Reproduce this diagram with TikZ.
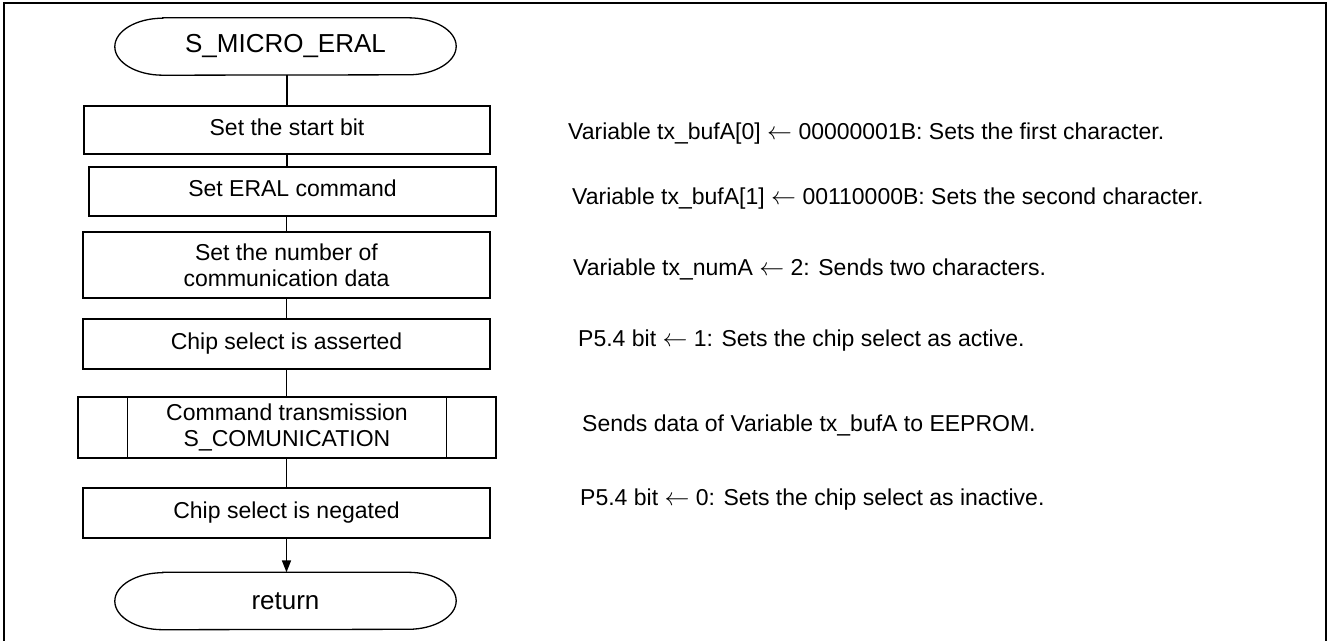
\documentclass[tikz,border=0pt]{standalone}
\usepackage{fontspec}
\setmainfont{Liberation Sans}
\usetikzlibrary{arrows.meta}

\tikzset{
  frameline/.style={line width=2.4pt},
  boxline/.style={line width=1.3pt},
  conn/.style={line width=1.6pt},
  procbox/.style={draw, boxline, rectangle, inner sep=0pt, align=center,
    font=\fontsize{23}{26}\selectfont},
  onerow/.style={text height=16pt, text depth=6pt},
  termbox/.style={rectangle, inner sep=0pt, minimum width=341pt, minimum height=57pt,
    font=\fontsize{26}{29}\selectfont},
  note/.style={anchor=base west, inner sep=0pt, font=\fontsize{23}{26}\selectfont},
}

% stadium outline with elliptical ends around a named node
\newcommand\termoutline[1]{%
  \draw[boxline] ([xshift=48pt]#1.north west) -- ([xshift=-48pt]#1.north east)
    arc[start angle=90, end angle=-90, x radius=48pt, y radius=28.5pt]
    -- ([xshift=48pt]#1.south west)
    arc[start angle=270, end angle=90, x radius=48pt, y radius=28.5pt] -- cycle;}

\begin{document}
\begin{tikzpicture}[x=1pt, y=-1pt]
\useasboundingbox (0,0) rectangle (1328,640);
\clip (0,0) rectangle (1328,640);
\draw[frameline] (4,3) rectangle (1326,670);

% flow
\node[termbox] (st) at (285.5,46.5) {S\_MICRO\_ERAL};
\termoutline{st}
\node[procbox, onerow, minimum width=406pt, minimum height=48pt] (b1) at (287,130) {Set the start bit};
\node[procbox, onerow, minimum width=407pt, minimum height=49pt] (b2) at (292.5,191.5) {Set ERAL command};
\node[procbox, minimum width=407pt, minimum height=66pt] (b3) at (286.5,265) {Set the number of\\communication data};
\node[procbox, onerow, minimum width=407pt, minimum height=50pt] (b4) at (286.5,344) {Chip select is asserted};
\node[procbox, minimum width=418pt, minimum height=61pt] (b5) at (287,427.5) {Command transmission\\S\_COMUNICATION};
\draw[boxline] ([xshift=50pt]b5.north west) -- ([xshift=50pt]b5.south west);
\draw[boxline] ([xshift=-50pt]b5.north east) -- ([xshift=-50pt]b5.south east);
\node[procbox, onerow, minimum width=407pt, minimum height=50pt] (b6) at (286.5,513) {Chip select is negated};
\node[termbox] (rt) at (285.5,601) {return};
\termoutline{rt}

% connectors
\draw[conn] (st.south -| b1.north) -- (b1.north);
\draw[conn] (b1.south) -- (b1.south |- b2.north);
\draw[conn] (b3.north |- b2.south) -- (b3.north);
\draw[conn] (b3.south) -- (b4.north);
\draw[conn] (b4.south) -- (b4.south |- b5.north);
\draw[conn] (b5.south) -- (b5.south -| b6.north) -- (b6.north);
\draw[conn, -{Triangle[length=12pt, width=9pt]}] (b6.south) -- (b6.south |- rt.north);

% notes
\node[note] (n1) at (568,139) {Variable tx\_bufA[0] $\leftarrow$ 00000001B: Sets the first character.};
\node[note] (n2) at (572,204) {Variable tx\_bufA[1] $\leftarrow$ 00110000B: Sets the second character.};
\node[note] (n3) at (573,275) {Variable tx\_numA $\leftarrow$ 2: Sends two characters.};
\node[note] (n4) at (578,346) {P5.4 bit $\leftarrow$ 1: Sets the chip select as active.};
\node[note] (n5) at (582,431) {Sends data of Variable tx\_bufA to EEPROM.};
\node[note] (n6) at (580,505) {P5.4 bit $\leftarrow$ 0: Sets the chip select as inactive.};
\end{tikzpicture}
\end{document}
